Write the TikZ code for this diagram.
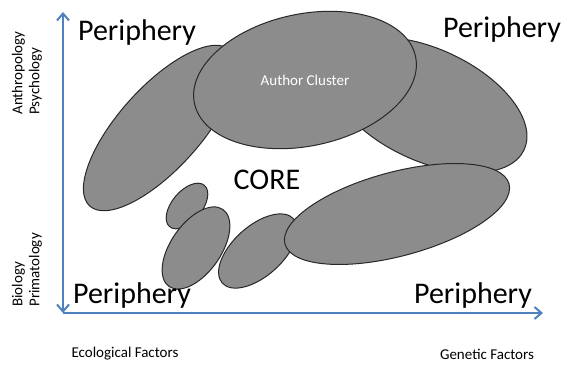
\documentclass[tikz,border=0pt]{standalone}
\usepackage{fontspec}
\setmainfont{Carlito}
\usepackage{xcolor}
\usepackage{tikz}
\usetikzlibrary{arrows.meta,positioning}
\definecolor{axisblue} {RGB}{79,129,189}
\definecolor{blobgray} {RGB}{140,140,140}
\definecolor{blobedge} {RGB}{40,40,40}

\begin{document}
\begin{tikzpicture}[
  x=0.5pt, y=0.5pt,
  axis/.style={draw=axisblue, line width=1pt},
  blob/.style={fill=blobgray, draw=blobedge, line width=0.5pt},
  zone/.style={font=\fontsize{15}{18}\selectfont},
  small/.style={font=\fontsize{7.5}{8.5}\selectfont},
]
\useasboundingbox (0,0) rectangle (566,364);

% Axes
\coordinate (origin) at (63,51);
\coordinate (ytop)   at (63,352);
\coordinate (xend)   at (543,51);
\draw[axis, {Straight Barb[length=3.5pt,width=6pt]}-{Straight Barb[length=3.5pt,width=6pt]}] (ytop) -- (origin);
\draw[axis, -{Straight Barb[length=3.5pt,width=6pt]}] (origin) -- (xend);

% Upper clusters
\coordinate (lft)  at (160,236);
\coordinate (rgt)  at (428,259);
\coordinate (auth) at (305,284);
\draw[blob, rotate around={48:(lft)}]  (lft)  ellipse [x radius=105, y radius=41];
\draw[blob, rotate around={-25:(rgt)}] (rgt)  ellipse [x radius=106, y radius=56];
\draw[blob, rotate around={12:(auth)}] (auth) ellipse [x radius=113, y radius=66];

% Lower clusters
\coordinate (sml) at (187,158);
\coordinate (mda) at (196,116);
\coordinate (mdb) at (258,113);
\coordinate (big) at (397,150);
\draw[blob, rotate around={50:(sml)}] (sml) ellipse [x radius=27,  y radius=15];
\draw[blob, rotate around={55:(mda)}] (mda) ellipse [x radius=47,  y radius=25];
\draw[blob, rotate around={42:(mdb)}] (mdb) ellipse [x radius=48,  y radius=25];
\draw[blob, rotate around={15:(big)}] (big) ellipse [x radius=116, y radius=42];

% Labels
\node[small, white] (authlbl) at (auth) {Author Cluster};
\node[zone] (core) at (267,184) {CORE};
\node[zone] (pertl) at (137,331) {Periphery};
\node[zone] (pertr) at (502,334) {Periphery};
\node[zone] (perbl) at (132,69)  {Periphery};
\node[zone] (perbr) at (473,69)  {Periphery};

% Axis labels
\node[small, rotate=90, align=left, anchor=west, inner sep=0pt] (yhigh) at (27,249) {Anthropology\\Psychology};
\node[small, rotate=90, align=left, anchor=west, inner sep=0pt] (ylow)  at (27,57)  {Biology\\Primatology};
\node[small] (xlow)  at (125,10) {Ecological Factors};
\node[small] (xhigh) at (487,10) {Genetic Factors};

\end{tikzpicture}
\end{document}
